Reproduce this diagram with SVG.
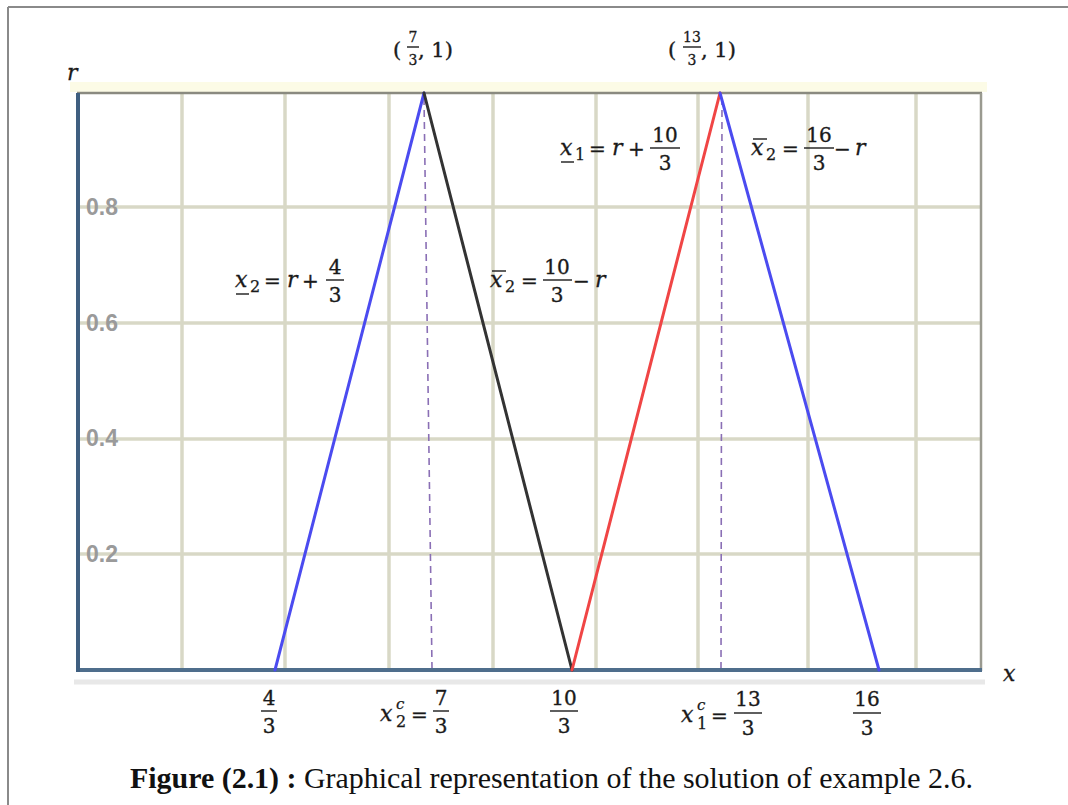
<svg xmlns="http://www.w3.org/2000/svg" width="1068" height="805" viewBox="0 0 1068 805">
<style>
.grid{stroke:#d8d8c6;stroke-width:3.5;fill:none}
.tick{font-family:"Liberation Sans",Arial,sans-serif;font-size:23px;font-weight:bold;fill:#9a9a9a}
.m{font-family:"DejaVu Serif",serif;font-size:20px;fill:#1a1a1a;stroke:#1a1a1a;stroke-width:0.35}
.mi{font-family:"DejaVu Serif",serif;font-style:italic;font-size:22px;fill:#1a1a1a;stroke:#1a1a1a;stroke-width:0.3}
.ms{font-family:"DejaVu Serif",serif;font-size:16px;fill:#1a1a1a;stroke:#1a1a1a;stroke-width:0.25}
.msi{font-family:"DejaVu Serif",serif;font-style:italic;font-size:15px;fill:#1a1a1a;stroke:#1a1a1a;stroke-width:0.25}
.tp{font-family:"DejaVu Serif",serif;font-size:21px;fill:#1a1a1a;stroke:#1a1a1a;stroke-width:0.4}
.tf{font-family:"DejaVu Serif",serif;font-size:14px;fill:#1a1a1a;stroke:#1a1a1a;stroke-width:0.3}
.bar{stroke:#1a1a1a;stroke-width:1.4}
.dash{stroke:#8a6fb5;stroke-width:1.6;stroke-dasharray:7 5;fill:none}
.seg{stroke-width:3;fill:none;stroke-linecap:round}
</style>
<rect x="0" y="0" width="1068" height="805" fill="#ffffff"/>
<g id="frame">
<line x1="8" y1="7" x2="1068" y2="7" stroke="#8a8a8a" stroke-width="2"/>
<line x1="8" y1="7" x2="8" y2="805" stroke="#8a8a8a" stroke-width="2"/>
</g>
<g id="plot">
<rect x="70" y="82" width="917" height="10" fill="#fcfbe6"/>
<line x1="74" y1="682" x2="985" y2="682" stroke="#e8e8e8" stroke-width="5"/>
<g class="grid">
<line x1="182" y1="93" x2="182" y2="670"/>
<line x1="285" y1="93" x2="285" y2="670"/>
<line x1="389" y1="93" x2="389" y2="670"/>
<line x1="493" y1="93" x2="493" y2="670"/>
<line x1="596" y1="93" x2="596" y2="670"/>
<line x1="698" y1="93" x2="698" y2="670"/>
<line x1="808" y1="93" x2="808" y2="670"/>
<line x1="916" y1="93" x2="916" y2="670"/>
<line x1="78" y1="207" x2="981" y2="207"/>
<line x1="78" y1="323" x2="981" y2="323"/>
<line x1="78" y1="439" x2="981" y2="439"/>
<line x1="78" y1="554" x2="981" y2="554"/>
</g>
<line x1="77" y1="93" x2="982" y2="93" stroke="#8a8a80" stroke-width="2.5"/>
<line x1="981" y1="93" x2="981" y2="671" stroke="#9a9a90" stroke-width="2.5"/>
<line x1="78" y1="670" x2="982" y2="670" stroke="#4f6e8c" stroke-width="4"/>
<line x1="78" y1="93" x2="78" y2="672" stroke="#3f5f80" stroke-width="4"/>
<text class="tick" x="86" y="215">0.8</text>
<text class="tick" x="86" y="331">0.6</text>
<text class="tick" x="86" y="446">0.4</text>
<text class="tick" x="86" y="562">0.2</text>
</g>
<g id="connectors">
<line class="dash" x1="424" y1="98" x2="432" y2="668"/>
<line class="dash" x1="722" y1="98" x2="721" y2="668"/>
<line class="seg" stroke="#4b4bf0" x1="275" y1="670" x2="424" y2="93"/>
<line class="seg" stroke="#333333" x1="424" y1="93" x2="572" y2="670"/>
<line class="seg" stroke="#f04545" x1="572" y1="670" x2="720" y2="93"/>
<line class="seg" stroke="#4b4bf0" x1="720" y1="93" x2="879" y2="670"/>
</g>
<g id="axis-labels">
<text class="mi" x="67" y="80" font-size="18">r</text>
<text class="mi" x="1003" y="681">x</text>
</g>
<g id="peak1">
<text class="tp" x="393" y="57">(</text>
<text class="tf" x="413" y="42" text-anchor="middle">7</text>
<line class="bar" x1="407" y1="47" x2="419" y2="47"/>
<text class="tf" x="413" y="65" text-anchor="middle">3</text>
<text class="tp" x="418" y="57">, 1)</text>
</g>
<g id="peak2">
<text class="tp" x="668" y="57">(</text>
<text class="tf" x="692" y="42" text-anchor="middle">13</text>
<line class="bar" x1="683" y1="47" x2="701" y2="47"/>
<text class="tf" x="692" y="65" text-anchor="middle">3</text>
<text class="tp" x="701" y="57">, 1)</text>
</g>
<g id="eq-lower1">
<text class="mi" x="560" y="155">x</text>
<line class="bar" x1="561" y1="162" x2="574" y2="162"/>
<text class="ms" x="575" y="160">1</text>
<text class="m" x="589" y="156">=</text>
<text class="mi" x="612" y="155">r</text>
<text class="m" x="628" y="156">+</text>
<text class="m" x="665" y="142" text-anchor="middle">10</text>
<line class="bar" x1="650" y1="148" x2="680" y2="148"/>
<text class="m" x="665" y="170" text-anchor="middle">3</text>
</g>
<g id="eq-upper2-right">
<text class="mi" x="751" y="155">x</text>
<line class="bar" x1="753" y1="139" x2="767" y2="139"/>
<text class="ms" x="766" y="160">2</text>
<text class="m" x="782" y="156">=</text>
<text class="m" x="819" y="142" text-anchor="middle">16</text>
<line class="bar" x1="804" y1="148" x2="834" y2="148"/>
<text class="m" x="819" y="170" text-anchor="middle">3</text>
<text class="m" x="834" y="156">−</text>
<text class="mi" x="855" y="155">r</text>
</g>
<g id="eq-lower2">
<text class="mi" x="235" y="287">x</text>
<line class="bar" x1="236" y1="294" x2="249" y2="294"/>
<text class="ms" x="250" y="292">2</text>
<text class="m" x="264" y="288">=</text>
<text class="mi" x="287" y="287">r</text>
<text class="m" x="302" y="288">+</text>
<text class="m" x="335" y="274" text-anchor="middle">4</text>
<line class="bar" x1="326" y1="280" x2="344" y2="280"/>
<text class="m" x="335" y="302" text-anchor="middle">3</text>
</g>
<g id="eq-upper2-left">
<text class="mi" x="490" y="287">x</text>
<line class="bar" x1="492" y1="271" x2="506" y2="271"/>
<text class="ms" x="505" y="292">2</text>
<text class="m" x="521" y="288">=</text>
<text class="m" x="557" y="274" text-anchor="middle">10</text>
<line class="bar" x1="543" y1="280" x2="572" y2="280"/>
<text class="m" x="557" y="302" text-anchor="middle">3</text>
<text class="m" x="573" y="288">−</text>
<text class="mi" x="595" y="287">r</text>
</g>
<g id="tick-4-3">
<text class="m" x="269" y="705" text-anchor="middle">4</text>
<line class="bar" x1="261" y1="711" x2="277" y2="711"/>
<text class="m" x="269" y="733" text-anchor="middle">3</text>
</g>
<g id="tick-7-3">
<text class="mi" x="380" y="721">x</text>
<text class="msi" x="396" y="709">c</text>
<text class="ms" x="396" y="727">2</text>
<text class="m" x="411" y="722">=</text>
<text class="m" x="441" y="705" text-anchor="middle">7</text>
<line class="bar" x1="433" y1="711" x2="449" y2="711"/>
<text class="m" x="441" y="733" text-anchor="middle">3</text>
</g>
<g id="tick-10-3">
<text class="m" x="564" y="705" text-anchor="middle">10</text>
<line class="bar" x1="550" y1="711" x2="578" y2="711"/>
<text class="m" x="564" y="733" text-anchor="middle">3</text>
</g>
<g id="tick-13-3">
<text class="mi" x="681" y="722">x</text>
<text class="msi" x="697" y="710">c</text>
<text class="ms" x="697" y="729">1</text>
<text class="m" x="711" y="723">=</text>
<text class="m" x="748" y="706" text-anchor="middle">13</text>
<line class="bar" x1="734" y1="713" x2="762" y2="713"/>
<text class="m" x="748" y="735" text-anchor="middle">3</text>
</g>
<g id="tick-16-3">
<text class="m" x="867" y="706" text-anchor="middle">16</text>
<line class="bar" x1="853" y1="713" x2="881" y2="713"/>
<text class="m" x="867" y="735" text-anchor="middle">3</text>
</g>
<g id="caption">
<text x="130" y="788" font-family="'Liberation Serif','Times New Roman',serif" font-size="30" fill="#111" textLength="843" lengthAdjust="spacingAndGlyphs"><tspan font-weight="bold">Figure (2.1) :</tspan> Graphical representation of the solution of example 2.6.</text>
</g>
</svg>
